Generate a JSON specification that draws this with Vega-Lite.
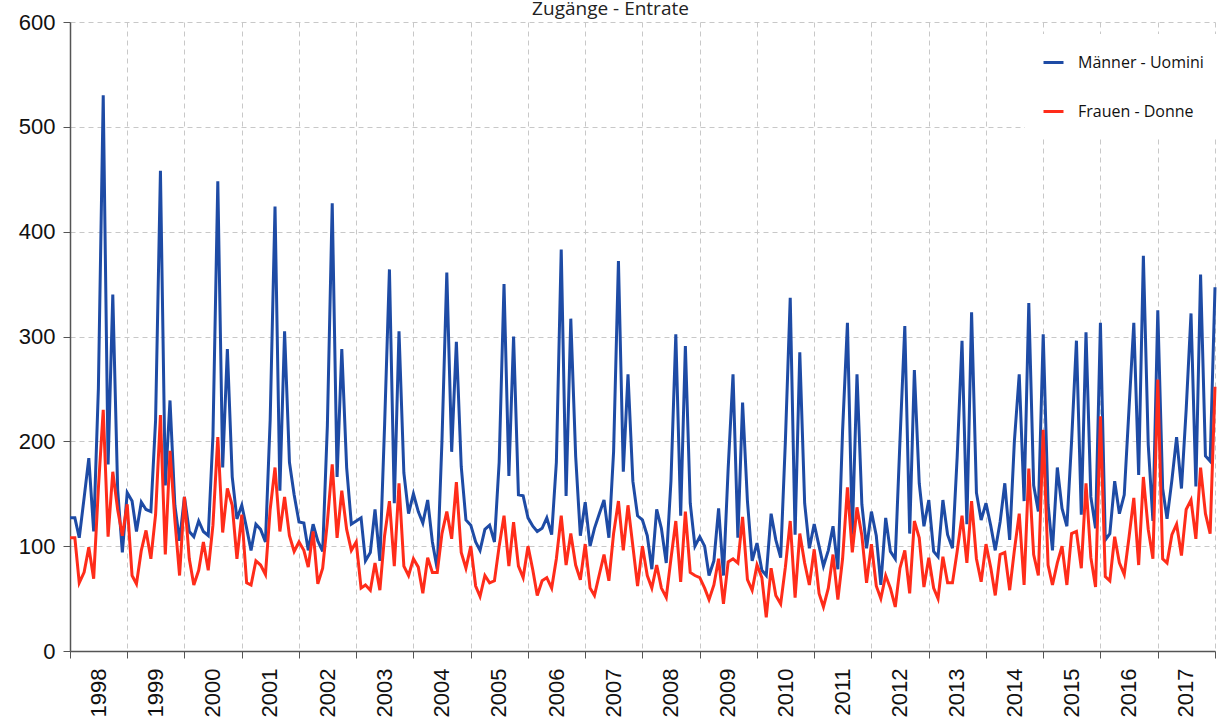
{
"$schema":"https://vega.github.io/schema/vega-lite/v6.json",
"width":1145,"height":629,
"autosize":{"type":"none"},
"padding":{"left":70,"top":22,"right":6,"bottom":71},
"background":"white",
"config":{"view":{"stroke":null}},
"title":{"text":"Zugänge - Entrate","fontSize":19,"font":"Open Sans","fontWeight":"normal","color":"#222","anchor":"middle","dx":-32,"offset":0,"dy":23,"baseline":"alphabetic"},
"data":{"values":[
{"d":"1998-01","m":127,"f":108},{"d":"1998-02","m":127,"f":108},{"d":"1998-03","m":108,"f":65},{"d":"1998-04","m":146,"f":75},{"d":"1998-05","m":184,"f":99},{"d":"1998-06","m":114,"f":69},{"d":"1998-07","m":250,"f":155},{"d":"1998-08","m":530,"f":230},{"d":"1998-09","m":178,"f":109},{"d":"1998-10","m":340,"f":171},{"d":"1998-11","m":154,"f":135},{"d":"1998-12","m":94,"f":110},
{"d":"1999-01","m":151,"f":140},{"d":"1999-02","m":143,"f":72},{"d":"1999-03","m":114,"f":64},{"d":"1999-04","m":142,"f":96},{"d":"1999-05","m":135,"f":115},{"d":"1999-06","m":133,"f":88},{"d":"1999-07","m":220,"f":130},{"d":"1999-08","m":458,"f":225},{"d":"1999-09","m":158,"f":92},{"d":"1999-10","m":239,"f":191},{"d":"1999-11","m":139,"f":125},{"d":"1999-12","m":105,"f":72},
{"d":"2000-01","m":147,"f":147},{"d":"2000-02","m":114,"f":88},{"d":"2000-03","m":109,"f":63},{"d":"2000-04","m":124,"f":77},{"d":"2000-05","m":114,"f":104},{"d":"2000-06","m":110,"f":77},{"d":"2000-07","m":205,"f":120},{"d":"2000-08","m":448,"f":204},{"d":"2000-09","m":175,"f":113},{"d":"2000-10","m":288,"f":155},{"d":"2000-11","m":166,"f":139},{"d":"2000-12","m":126,"f":88},
{"d":"2001-01","m":139,"f":130},{"d":"2001-02","m":117,"f":65},{"d":"2001-03","m":96,"f":63},{"d":"2001-04","m":121,"f":86},{"d":"2001-05","m":116,"f":82},{"d":"2001-06","m":104,"f":73},{"d":"2001-07","m":220,"f":135},{"d":"2001-08","m":424,"f":175},{"d":"2001-09","m":153,"f":114},{"d":"2001-10","m":305,"f":147},{"d":"2001-11","m":180,"f":110},{"d":"2001-12","m":149,"f":95},
{"d":"2002-01","m":123,"f":104},{"d":"2002-02","m":122,"f":96},{"d":"2002-03","m":96,"f":80},{"d":"2002-04","m":121,"f":114},{"d":"2002-05","m":105,"f":64},{"d":"2002-06","m":95,"f":79},{"d":"2002-07","m":215,"f":123},{"d":"2002-08","m":427,"f":178},{"d":"2002-09","m":166,"f":108},{"d":"2002-10","m":288,"f":153},{"d":"2002-11","m":175,"f":116},{"d":"2002-12","m":121,"f":96},
{"d":"2003-01","m":124,"f":104},{"d":"2003-02","m":127,"f":60},{"d":"2003-03","m":86,"f":63},{"d":"2003-04","m":94,"f":58},{"d":"2003-05","m":135,"f":84},{"d":"2003-06","m":86,"f":58},{"d":"2003-07","m":215,"f":110},{"d":"2003-08","m":364,"f":143},{"d":"2003-09","m":141,"f":81},{"d":"2003-10","m":305,"f":160},{"d":"2003-11","m":170,"f":81},{"d":"2003-12","m":131,"f":72},
{"d":"2004-01","m":150,"f":88},{"d":"2004-02","m":133,"f":80},{"d":"2004-03","m":122,"f":55},{"d":"2004-04","m":144,"f":89},{"d":"2004-05","m":104,"f":75},{"d":"2004-06","m":78,"f":75},{"d":"2004-07","m":200,"f":112},{"d":"2004-08","m":361,"f":133},{"d":"2004-09","m":190,"f":107},{"d":"2004-10","m":295,"f":161},{"d":"2004-11","m":176,"f":94},{"d":"2004-12","m":125,"f":79},
{"d":"2005-01","m":120,"f":100},{"d":"2005-02","m":104,"f":62},{"d":"2005-03","m":96,"f":52},{"d":"2005-04","m":116,"f":72},{"d":"2005-05","m":120,"f":65},{"d":"2005-06","m":104,"f":67},{"d":"2005-07","m":180,"f":100},{"d":"2005-08","m":350,"f":129},{"d":"2005-09","m":167,"f":81},{"d":"2005-10","m":300,"f":123},{"d":"2005-11","m":149,"f":81},{"d":"2005-12","m":148,"f":70},
{"d":"2006-01","m":127,"f":100},{"d":"2006-02","m":119,"f":77},{"d":"2006-03","m":114,"f":53},{"d":"2006-04","m":117,"f":67},{"d":"2006-05","m":127,"f":70},{"d":"2006-06","m":111,"f":60},{"d":"2006-07","m":180,"f":88},{"d":"2006-08","m":383,"f":129},{"d":"2006-09","m":148,"f":82},{"d":"2006-10","m":317,"f":112},{"d":"2006-11","m":186,"f":82},{"d":"2006-12","m":110,"f":68},
{"d":"2007-01","m":142,"f":102},{"d":"2007-02","m":100,"f":60},{"d":"2007-03","m":117,"f":53},{"d":"2007-04","m":131,"f":73},{"d":"2007-05","m":144,"f":92},{"d":"2007-06","m":108,"f":67},{"d":"2007-07","m":190,"f":112},{"d":"2007-08","m":372,"f":143},{"d":"2007-09","m":171,"f":96},{"d":"2007-10","m":264,"f":139},{"d":"2007-11","m":162,"f":100},{"d":"2007-12","m":129,"f":62},
{"d":"2008-01","m":125,"f":100},{"d":"2008-02","m":110,"f":72},{"d":"2008-03","m":78,"f":60},{"d":"2008-04","m":135,"f":82},{"d":"2008-05","m":117,"f":60},{"d":"2008-06","m":84,"f":51},{"d":"2008-07","m":162,"f":88},{"d":"2008-08","m":302,"f":124},{"d":"2008-09","m":129,"f":66},{"d":"2008-10","m":291,"f":133},{"d":"2008-11","m":141,"f":75},{"d":"2008-12","m":100,"f":72},
{"d":"2009-01","m":109,"f":70},{"d":"2009-02","m":100,"f":60},{"d":"2009-03","m":72,"f":49},{"d":"2009-04","m":86,"f":63},{"d":"2009-05","m":136,"f":88},{"d":"2009-06","m":72,"f":45},{"d":"2009-07","m":174,"f":85},{"d":"2009-08","m":264,"f":88},{"d":"2009-09","m":108,"f":84},{"d":"2009-10","m":237,"f":128},{"d":"2009-11","m":143,"f":68},{"d":"2009-12","m":86,"f":58},
{"d":"2010-01","m":103,"f":82},{"d":"2010-02","m":77,"f":70},{"d":"2010-03","m":72,"f":32},{"d":"2010-04","m":131,"f":79},{"d":"2010-05","m":106,"f":53},{"d":"2010-06","m":89,"f":45},{"d":"2010-07","m":200,"f":80},{"d":"2010-08","m":337,"f":124},{"d":"2010-09","m":111,"f":51},{"d":"2010-10","m":285,"f":112},{"d":"2010-11","m":141,"f":84},{"d":"2010-12","m":98,"f":63},
{"d":"2011-01","m":121,"f":97},{"d":"2011-02","m":100,"f":55},{"d":"2011-03","m":81,"f":42},{"d":"2011-04","m":96,"f":60},{"d":"2011-05","m":119,"f":92},{"d":"2011-06","m":78,"f":49},{"d":"2011-07","m":210,"f":88},{"d":"2011-08","m":313,"f":156},{"d":"2011-09","m":111,"f":94},{"d":"2011-10","m":264,"f":137},{"d":"2011-11","m":140,"f":110},{"d":"2011-12","m":98,"f":65},
{"d":"2012-01","m":133,"f":102},{"d":"2012-02","m":110,"f":62},{"d":"2012-03","m":63,"f":50},{"d":"2012-04","m":127,"f":72},{"d":"2012-05","m":95,"f":60},{"d":"2012-06","m":88,"f":42},{"d":"2012-07","m":200,"f":79},{"d":"2012-08","m":310,"f":96},{"d":"2012-09","m":112,"f":55},{"d":"2012-10","m":268,"f":124},{"d":"2012-11","m":160,"f":108},{"d":"2012-12","m":119,"f":61},
{"d":"2013-01","m":144,"f":89},{"d":"2013-02","m":95,"f":60},{"d":"2013-03","m":90,"f":50},{"d":"2013-04","m":144,"f":90},{"d":"2013-05","m":111,"f":65},{"d":"2013-06","m":98,"f":65},{"d":"2013-07","m":185,"f":95},{"d":"2013-08","m":296,"f":129},{"d":"2013-09","m":121,"f":84},{"d":"2013-10","m":323,"f":143},{"d":"2013-11","m":151,"f":88},{"d":"2013-12","m":125,"f":66},
{"d":"2014-01","m":141,"f":102},{"d":"2014-02","m":119,"f":79},{"d":"2014-03","m":96,"f":53},{"d":"2014-04","m":123,"f":92},{"d":"2014-05","m":160,"f":94},{"d":"2014-06","m":106,"f":58},{"d":"2014-07","m":200,"f":96},{"d":"2014-08","m":264,"f":131},{"d":"2014-09","m":143,"f":63},{"d":"2014-10","m":332,"f":174},{"d":"2014-11","m":158,"f":92},{"d":"2014-12","m":133,"f":72},
{"d":"2015-01","m":302,"f":211},{"d":"2015-02","m":140,"f":82},{"d":"2015-03","m":96,"f":63},{"d":"2015-04","m":175,"f":84},{"d":"2015-05","m":136,"f":100},{"d":"2015-06","m":119,"f":63},{"d":"2015-07","m":200,"f":112},{"d":"2015-08","m":296,"f":114},{"d":"2015-09","m":130,"f":79},{"d":"2015-10","m":304,"f":160},{"d":"2015-11","m":147,"f":89},{"d":"2015-12","m":117,"f":61},
{"d":"2016-01","m":313,"f":224},{"d":"2016-02","m":106,"f":71},{"d":"2016-03","m":112,"f":67},{"d":"2016-04","m":162,"f":109},{"d":"2016-05","m":131,"f":84},{"d":"2016-06","m":149,"f":73},{"d":"2016-07","m":230,"f":108},{"d":"2016-08","m":313,"f":146},{"d":"2016-09","m":168,"f":82},{"d":"2016-10","m":377,"f":166},{"d":"2016-11","m":197,"f":116},{"d":"2016-12","m":124,"f":88},
{"d":"2017-01","m":325,"f":259},{"d":"2017-02","m":155,"f":88},{"d":"2017-03","m":126,"f":84},{"d":"2017-04","m":163,"f":111},{"d":"2017-05","m":204,"f":121},{"d":"2017-06","m":155,"f":91},{"d":"2017-07","m":230,"f":135},{"d":"2017-08","m":322,"f":144},{"d":"2017-09","m":157,"f":107},{"d":"2017-10","m":359,"f":175},{"d":"2017-11","m":186,"f":131},{"d":"2017-12","m":181,"f":112},
{"d":"2018-01","m":347,"f":252}
]},
"transform":[{"fold":["m","f"],"as":["s","v"]}],
"mark":{"type":"line","strokeWidth":3},
"encoding":{
"x":{"field":"d","type":"temporal",
"scale":{"type":"utc","domain":[{"year":1998,"month":1,"date":1,"utc":true},{"year":2018,"month":1,"date":1,"utc":true}]},
"axis":{"title":null,
"values":[{"year":1998,"month":1,"date":1,"utc":true},{"year":1999,"month":1,"date":1,"utc":true},{"year":2000,"month":1,"date":1,"utc":true},{"year":2001,"month":1,"date":1,"utc":true},{"year":2002,"month":1,"date":1,"utc":true},{"year":2003,"month":1,"date":1,"utc":true},{"year":2004,"month":1,"date":1,"utc":true},{"year":2005,"month":1,"date":1,"utc":true},{"year":2006,"month":1,"date":1,"utc":true},{"year":2007,"month":1,"date":1,"utc":true},{"year":2008,"month":1,"date":1,"utc":true},{"year":2009,"month":1,"date":1,"utc":true},{"year":2010,"month":1,"date":1,"utc":true},{"year":2011,"month":1,"date":1,"utc":true},{"year":2012,"month":1,"date":1,"utc":true},{"year":2013,"month":1,"date":1,"utc":true},{"year":2014,"month":1,"date":1,"utc":true},{"year":2015,"month":1,"date":1,"utc":true},{"year":2016,"month":1,"date":1,"utc":true},{"year":2017,"month":1,"date":1,"utc":true},{"year":2018,"month":1,"date":1,"utc":true}],
"labelExpr":"utcyear(datum.value) >= 2018 ? '' : utcFormat(datum.value, '%Y')",
"labelAngle":-90,"labelOffset":28,"labelPadding":10,"labelFontSize":22,"labelFont":"Liberation Sans","labelColor":"#111",
"labelOverlap":false,"labelBound":false,"labelFlush":false,
"tickSize":7,"tickColor":"#555","domainColor":"#555","domainWidth":1.5,
"grid":true,"gridDash":[5,4],"gridColor":"#c8c8c8","gridWidth":1}},
"y":{"field":"v","type":"quantitative","scale":{"domain":[0,600],"nice":false},
"axis":{"title":null,"values":[0,100,200,300,400,500,600],"labelFontSize":22,"labelFont":"Liberation Sans","labelColor":"#111","labelPadding":8,
"tickSize":7,"tickColor":"#555","domainColor":"#555","domainWidth":1.5,
"grid":true,"gridDash":[5,4],"gridColor":"#c8c8c8","gridWidth":1}},
"color":{"field":"s","type":"nominal","scale":{"domain":["m","f"],"range":["#1E4BA5","#FF2C1A"]},
"legend":{"title":null,"orient":"none","legendX":955,"legendY":12,"fillColor":"white","padding":17,
"symbolType":"stroke","symbolSize":400,"symbolStrokeWidth":3,"labelFontSize":16,"labelFont":"Open Sans","labelColor":"#111",
"rowPadding":29,"labelOffset":13,"labelExpr":"datum.value == 'm' ? 'Männer - Uomini' : 'Frauen - Donne'"}}
}
}
